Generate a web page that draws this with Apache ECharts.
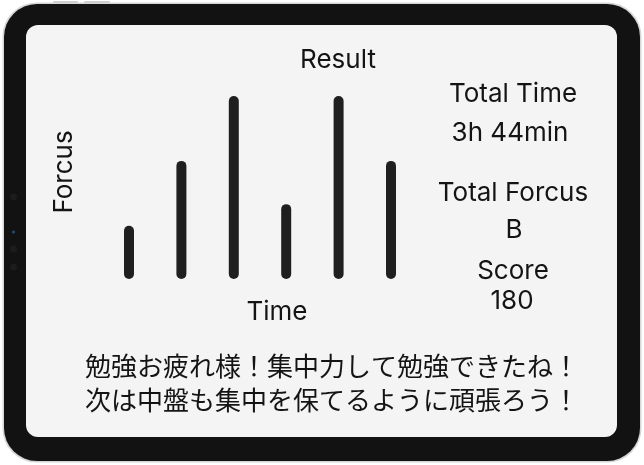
<!DOCTYPE html>
<html><head><meta charset="utf-8">
<script src="https://cdn.jsdelivr.net/npm/echarts@6/dist/echarts.min.js"></script>
<style>html,body{margin:0;padding:0;background:#fff;}#c{width:644px;height:465px;}</style>
</head><body><div id="c"></div>
<script>
const categories = ['1', '2', '3', '4', '5', '6'];
const focusValues = [2, 5, 8, 3, 8, 5];
const titleText = 'Result';
const xName = 'Time';
const yName = 'Forcus';
const statLabels = ['Total Time', '3h 44min', 'Total Forcus', 'B', 'Score', '180'];
const messageLines = ['勉強お疲れ様！集中力して勉強できたね！', '次は中盤も集中を保てるように頑張ろう！'];

const FONT = 'Inter, "Noto Sans", sans-serif';
const JP = '"Noto Sans CJK JP", sans-serif';
const INK = '#141414';

const statPos = [[513, 94.5], [510, 133.5], [513, 193.5], [514, 230.5], [513, 271.5], [512, 301.5]];

const graphics = [
  {type:'rect', z:-10, shape:{x:2.5, y:2.5, width:639, height:460, r:34}, style:{fill:'#d6d6d6'}},
  {type:'rect', z:-9, shape:{x:4, y:4, width:636, height:457, r:33}, style:{fill:'#121212'}},
  {type:'rect', z:-8, shape:{x:26, y:25, width:591, height:412, r:12}, style:{fill:'#f4f4f4'}},
  {type:'rect', z:-9, shape:{x:53, y:1, width:25, height:2, r:1}, style:{fill:'#cfcfcf'}},
  {type:'rect', z:-9, shape:{x:84, y:1, width:26, height:2, r:1}, style:{fill:'#cfcfcf'}},
  {type:'circle', z:-7, shape:{cx:13.5, cy:197, r:3.5}, style:{fill:'#1c1c1c'}},
  {type:'circle', z:-7, shape:{cx:13.5, cy:232, r:1.5}, style:{fill:'#2a4a7a'}},
  {type:'circle', z:-7, shape:{cx:13.5, cy:249, r:3.5}, style:{fill:'#1c1c1c'}},
  {type:'circle', z:-7, shape:{cx:13.5, cy:267, r:3.5}, style:{fill:'#1c1c1c'}}
];
statLabels.forEach((t, i) => {
  graphics.push({type:'text', x:statPos[i][0], y:statPos[i][1],
    style:{text:t, fill:INK, font:'26px ' + FONT, textAlign:'center', textVerticalAlign:'middle'}});
});
messageLines.forEach((t, i) => {
  graphics.push({type:'text', x:332, y:366 + i*34,
    style:{text:t, fill:INK, font:'26px ' + JP, textAlign:'center', textVerticalAlign:'middle'}});
});
graphics.push({type:'text', x:338, y:60.5, style:{text:titleText, fill:INK, font:'26px ' + FONT, textAlign:'center', textVerticalAlign:'middle'}});
graphics.push({type:'text', x:277, y:312.5, style:{text:xName, fill:INK, font:'26px ' + FONT, textAlign:'center', textVerticalAlign:'middle'}});
graphics.push({type:'text', x:64, y:172, rotation:Math.PI/2, style:{text:yName, fill:INK, font:'26px ' + FONT, textAlign:'center', textVerticalAlign:'middle'}});

const chart = echarts.init(document.getElementById('c'), null, {renderer:'canvas'});
chart.setOption({
  animation:false,
  backgroundColor:'#ffffff',
  grid:{left:102.8, top:101, width:314.4, height:173},
  xAxis:{type:'category', data:categories, show:false},
  yAxis:{type:'value', min:0, max:8, show:false},
  graphic:graphics,
  series:[{
    type:'custom',
    data:focusValues.map((v, i) => [i, v]),
    renderItem:function(params, api){
      const x = api.value(0), v = api.value(1);
      const p0 = api.coord([x, 0]);
      const p1 = api.coord([x, v]);
      return {type:'line', shape:{x1:p0[0], y1:p0[1], x2:p1[0], y2:p1[1]},
        style:{stroke:'#1f1f1f', lineWidth:10, lineCap:'round'}};
    }
  }]
});
</script></body></html>
